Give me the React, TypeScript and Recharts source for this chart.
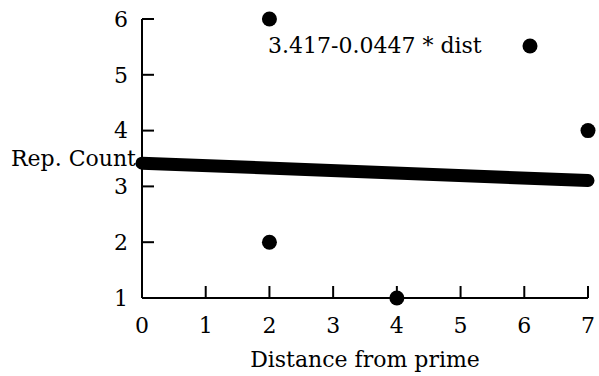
import { ScatterChart, Scatter, XAxis, YAxis, Legend, Label } from 'recharts';

const pointX = [2, 2, 4, 7];
const pointY = [6, 2, 1, 4];

// fitted line end points: 3.417 - 0.0447 * dist
const fitX = [0, 7];
const fitY = [3.417, 3.104];

const xTicks = [0, 1, 2, 3, 4, 5, 6, 7];
const yTicks = [1, 2, 3, 4, 5, 6];

const FIT_NAME = '3.417-0.0447 * dist';
const FONT = 'DejaVu Serif';
const FS = 22;

const points = pointX.map((x, i) => ({ x, y: pointY[i] }));
const fit = fitX.map((x, i) => ({ x, y: fitY[i] }));

const Dot = ({ cx, cy }: any) => <circle cx={cx} cy={cy} r={7.5} fill="#000" />;
const NoDot = () => <g />;

// gnuplot-like key: text then point sample
const KeyContent = () => (
  <div style={{ display: 'flex', alignItems: 'center', fontFamily: FONT, fontSize: FS, color: '#000', whiteSpace: 'nowrap' }}>
    <span>{FIT_NAME}</span>
    <svg width={60} height={20} style={{ marginLeft: 18 }}>
      <circle cx={30} cy={10} r={7.5} fill="#000" />
    </svg>
  </div>
);

const tickStyle = { fontSize: FS, fill: '#000', fontFamily: FONT };

export default function App() {
  return (
    <div style={{ position: 'absolute', left: 0, top: 0, fontFamily: FONT }}>
      <ScatterChart width={599} height={376} margin={{ top: 19, right: 11, left: 0, bottom: 0 }}>
        <XAxis
          type="number"
          dataKey="x"
          domain={[0, 7]}
          ticks={xTicks}
          height={78}
          tickSize={-12}
          tickMargin={31}
          tick={tickStyle}
          stroke="#000"
          strokeWidth={2}
        >
          <Label value="Distance from prime" position="insideBottom" offset={9} style={{ fontSize: FS, fill: '#000', fontFamily: FONT }} />
        </XAxis>
        <XAxis
          xAxisId="top"
          orientation="top"
          type="number"
          domain={[0, 7]}
          ticks={xTicks}
          height={0}
          tickSize={-12}
          tick={false}
          stroke="#000"
          strokeWidth={2}
        />
        <YAxis
          type="number"
          dataKey="y"
          domain={[1, 6]}
          ticks={yTicks}
          width={142}
          tickSize={-12}
          tickMargin={26}
          tick={tickStyle}
          stroke="#000"
          strokeWidth={2}
        >
          <Label value="Rep. Count" position="insideLeft" offset={11} style={{ fontSize: FS, fill: '#000', fontFamily: FONT, textAnchor: 'start' }} />
        </YAxis>
        <YAxis
          yAxisId="right"
          orientation="right"
          type="number"
          domain={[1, 6]}
          ticks={yTicks}
          width={0}
          tickSize={-12}
          tick={false}
          stroke="#000"
          strokeWidth={2}
        />
        <Legend
          layout="horizontal"
          verticalAlign="middle"
          align="center"
          content={<KeyContent />}
          wrapperStyle={{ position: 'absolute', top: 33, left: 268, width: 'auto' }}
        />
        <Scatter
          name={FIT_NAME}
          data={fit}
          fill="#000"
          line={{ stroke: '#000', strokeWidth: 13, strokeLinecap: 'round' }}
          shape={<NoDot />}
          legendType="circle"
          isAnimationActive={false}
        />
        <Scatter name="data" data={points} fill="#000" shape={<Dot />} legendType="none" isAnimationActive={false} />
      </ScatterChart>
    </div>
  );
}
